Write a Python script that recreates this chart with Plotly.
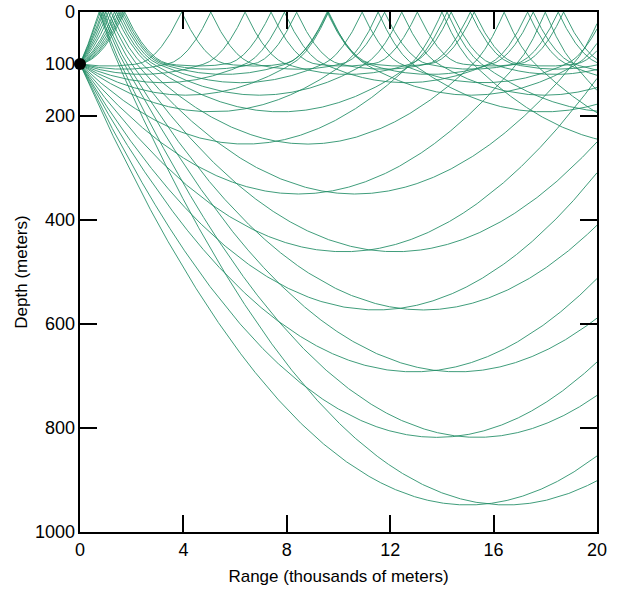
import numpy as np
import plotly.graph_objects as go

# ---- data ----
range_ticks_km = [0, 4, 8, 12, 16, 20]
depth_ticks_m = [200, 400, 600, 800]
depth_labels_m = [0, 100, 200, 400, 600, 800, 1000]
source_range_km = [0]
source_depth_m = [100]

# each ray pair: lower turning depth (m) and range (km) of the downward-launched ray;
# the upward-launched partner reflects at the surface and turns at the same depth
turn_depth_m = [948, 818, 692, 573, 461, 350, 254, 192, 160, 136, 120, 110, 104]
turn_range_km = [15.0, 13.8, 12.9, 11.45, 10.2, 8.45, 6.4, 5.1, 4.1, 3.2, 2.4, 1.7, 1.1]

# horizontal distance a level ray at the source depth needs to reach the surface (km)
duct_reach_km = 1.85
max_range_km = 20

# ---- build ray paths ----
x = np.linspace(0, max_range_km, 2401)
k_duct = source_depth_m[0] / duct_reach_km ** 2
zs = source_depth_m[0]

xs_all, ys_all = [], []
for D, R in zip(turn_depth_m, turn_range_km):
    k_low = (D - zs) / R ** 2
    s = 2 * (D - zs) / R
    t = (-s + np.sqrt(s * s + 4 * k_duct * zs)) / (2 * k_duct)
    P = 2 * R + 2 * t

    def f(u):
        u = np.mod(u, P)
        low = zs + s * u - k_low * u ** 2
        v = u - 2 * R
        w = np.minimum(v, 2 * t - v)
        duct = zs - s * w - k_duct * w ** 2
        return np.where(u <= 2 * R, low, duct)

    for shift in (0.0, 2 * t):
        z = np.clip(f(x - shift), 0, None)
        xs_all.extend(x.tolist() + [None])
        ys_all.extend(z.tolist() + [None])

fig = go.Figure()
fig.add_trace(go.Scatter(
    x=xs_all, y=ys_all, mode="lines",
    line=dict(color="rgba(30,140,100,0.85)", width=1),
    hoverinfo="skip", showlegend=False,
))
fig.add_trace(go.Scatter(
    x=source_range_km, y=source_depth_m, mode="markers",
    marker=dict(color="black", size=12), yaxis="y2",
    cliponaxis=False, showlegend=False, hoverinfo="skip",
))

axis_common = dict(showgrid=False, zeroline=False, automargin=False)
fig.update_layout(
    width=622, height=590,
    margin=dict(l=80, r=25, t=12, b=58),
    plot_bgcolor="white", paper_bgcolor="white",
    font=dict(family="Liberation Sans, Arial, sans-serif", size=18, color="black"),
    showlegend=False,
    xaxis=dict(
        range=[0, max_range_km], tickvals=range_ticks_km,
        ticks="inside", ticklen=17, tickwidth=2, tickcolor="black",
        mirror="ticks", showline=True, linewidth=2, linecolor="black",
        title=dict(text="Range (thousands of meters)", font=dict(size=17), standoff=12),
        **axis_common,
    ),
    yaxis=dict(
        range=[1000, 0], tickvals=depth_ticks_m,
        ticks="inside", ticklen=17, tickwidth=2, tickcolor="black",
        mirror="ticks", showline=True, linewidth=2, linecolor="black",
        showticklabels=False,
        **axis_common,
    ),
    yaxis2=dict(
        overlaying="y", side="left", range=[1000, 0],
        tickvals=depth_labels_m, ticktext=[str(v) for v in depth_labels_m],
        ticks="", showline=False, ticklabelstandoff=4,
        title=dict(text="Depth (meters)", font=dict(size=17), standoff=3),
        **axis_common,
    ),
)

fig.write_html(
    "out.html",
    config={"displayModeBar": False},
    post_script="document.body.style.margin='0px';document.body.style.overflow='hidden';",
)
